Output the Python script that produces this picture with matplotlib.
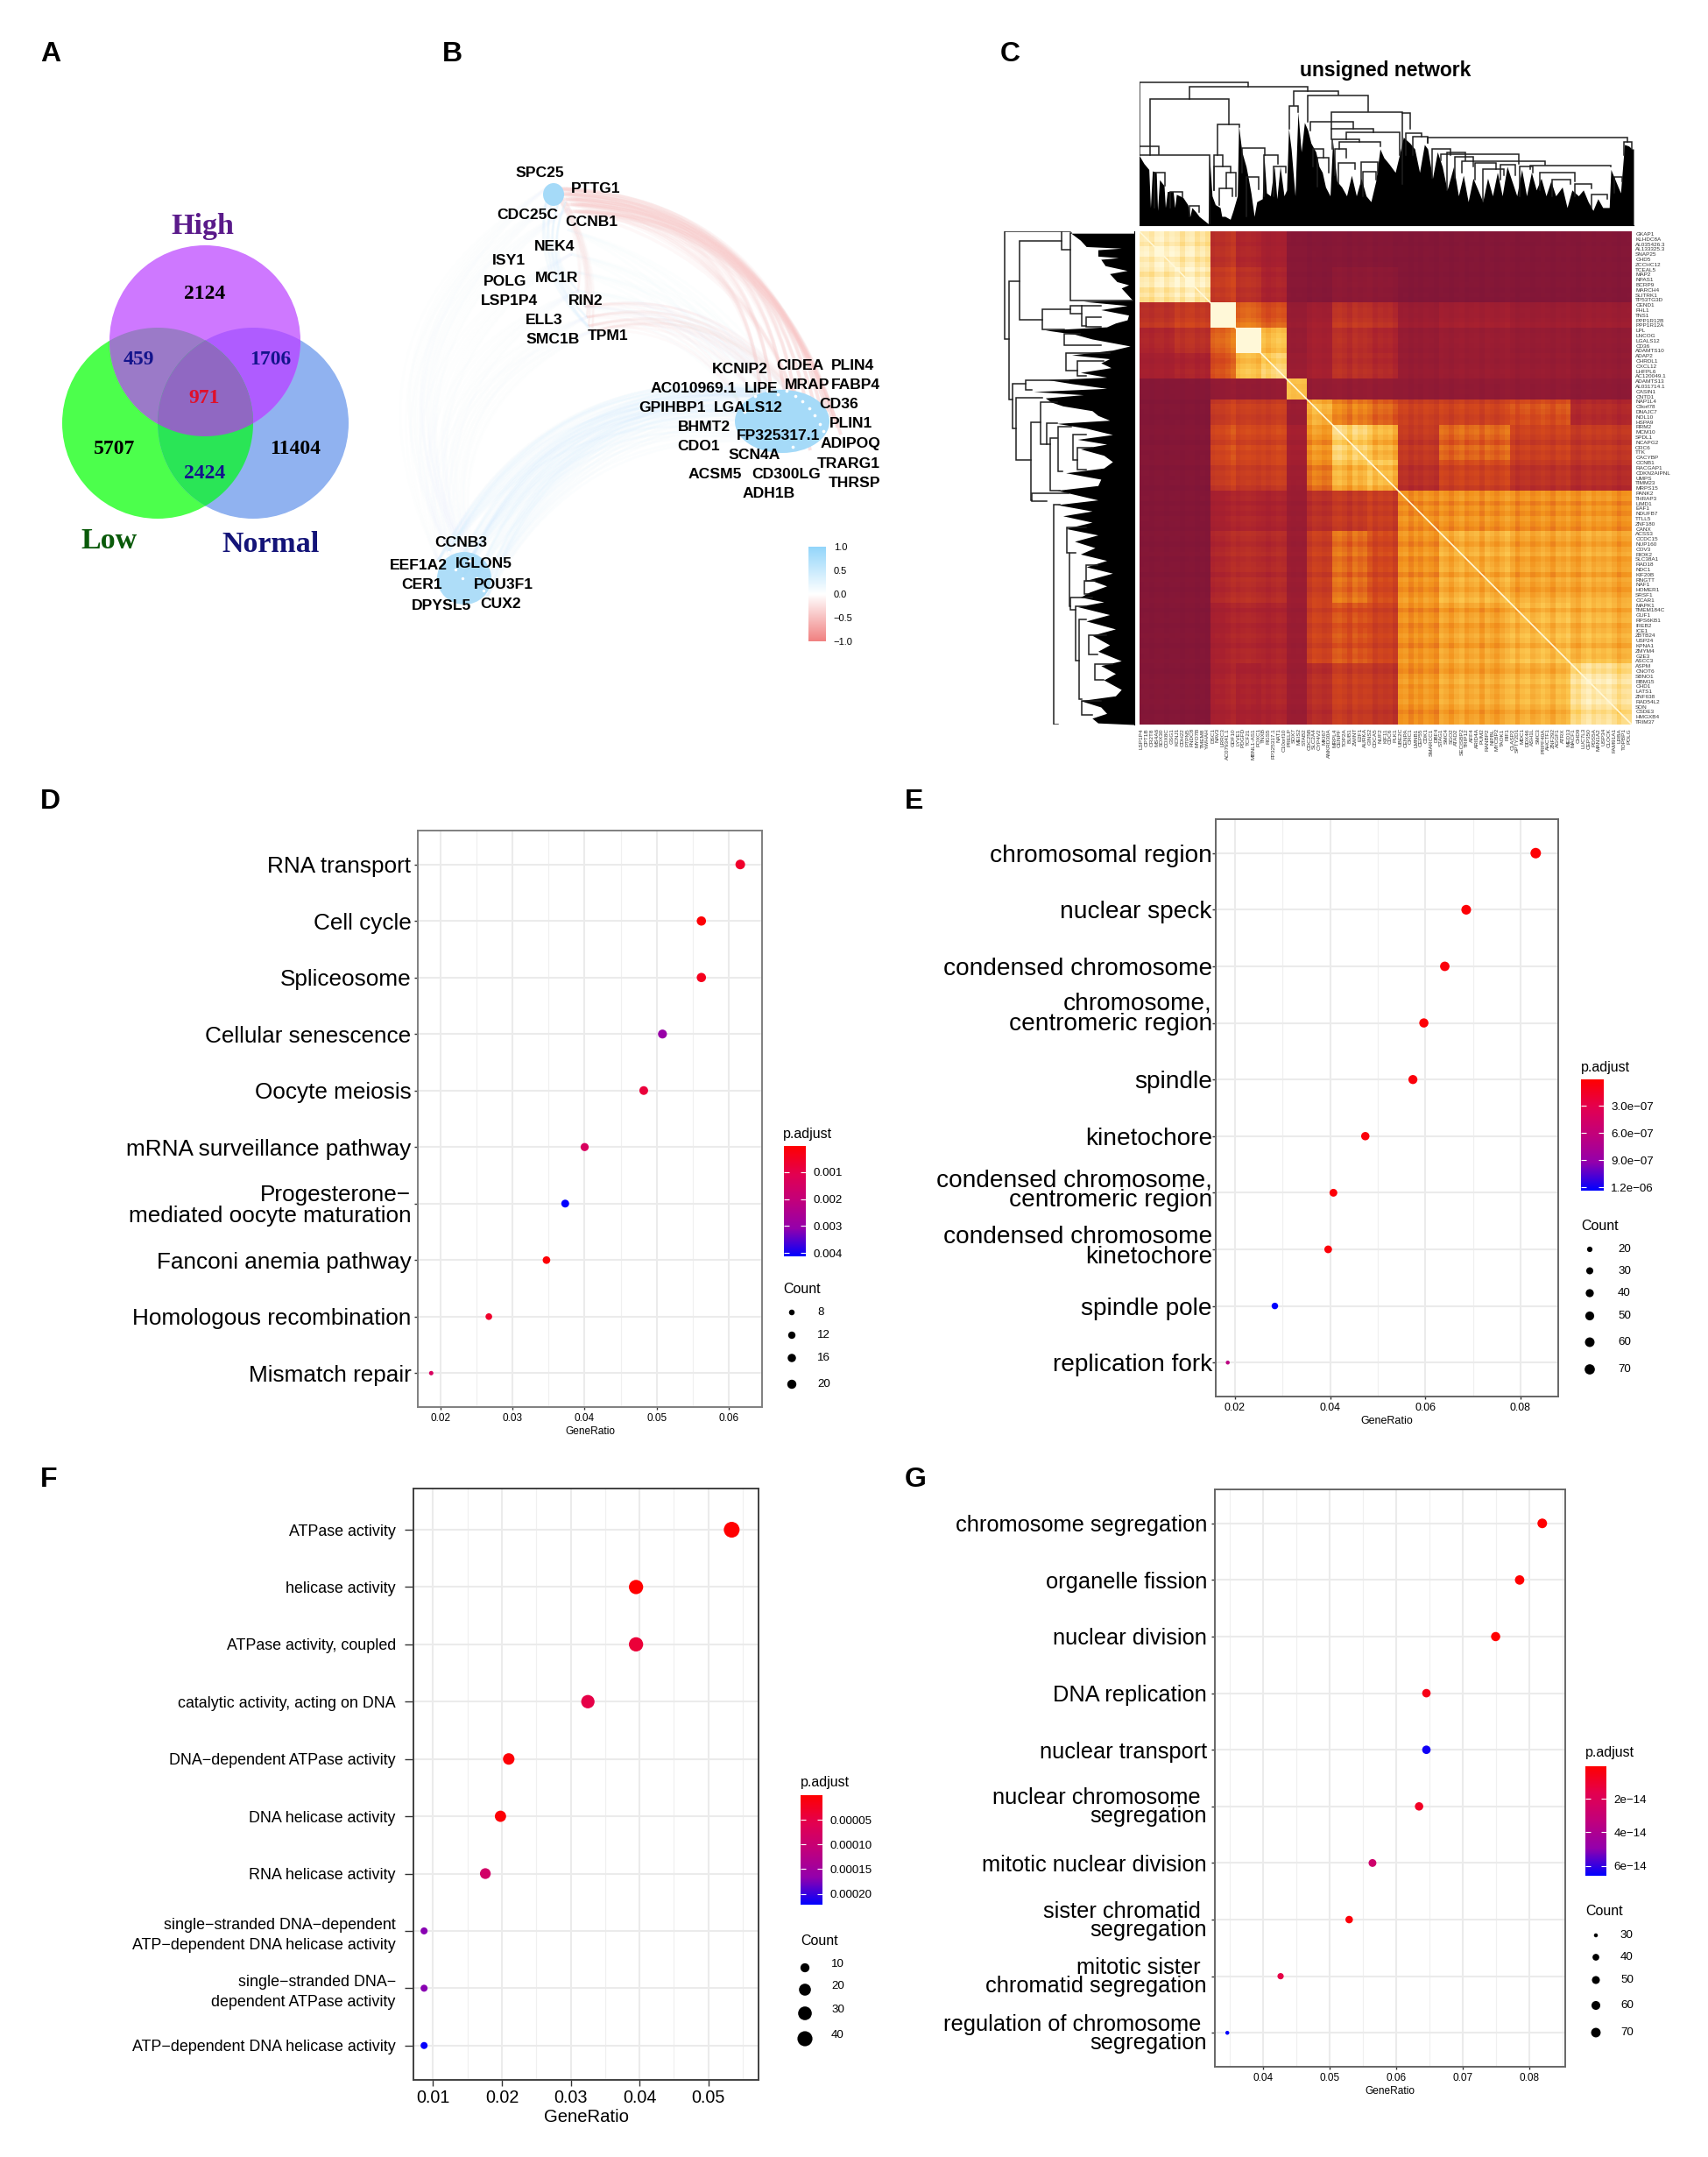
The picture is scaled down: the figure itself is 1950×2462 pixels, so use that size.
import numpy as np
import matplotlib
matplotlib.use("Agg")
import matplotlib.pyplot as plt
from matplotlib.colors import LinearSegmentedColormap, Normalize
from matplotlib.cm import ScalarMappable
from matplotlib.patches import Circle, Polygon, PathPatch, Ellipse
from matplotlib.path import Path
from matplotlib.transforms import ScaledTranslation

plt.rcParams['font.family'] = ['Liberation Sans', 'DejaVu Sans']

W, H = 1950, 2462
RB = LinearSegmentedColormap.from_list('rb', ['#FF0000', '#E3004F', '#C1007C', '#9300AC', '#0000FF'])
TOM = LinearSegmentedColormap.from_list('tom', [(0, '#7E1538'), (.25, '#A8202F'), (.45, '#D4481C'),
                                               (.62, '#F2921C'), (.78, '#FCC850'), (1, '#FFF8D8')])
NET = LinearSegmentedColormap.from_list('net', ['#F08080', '#FFFFFF', '#92D5FA'])

# ---- Panel A: Venn
venn_sets = ['High', 'Low', 'Normal']
venn_counts = ['2124', '459', '1706', '971', '5707', '11404', '2424']

# ---- Panel B: network
net_genes = ['SPC25', 'PTTG1', 'CDC25C', 'CCNB1', 'NEK4', 'ISY1', 'POLG', 'MC1R', 'LSP1P4', 'RIN2', 'ELL3', 'SMC1B',
             'TPM1', 'KCNIP2', 'CIDEA', 'PLIN4', 'AC010969.1', 'LIPE', 'MRAP', 'FABP4', 'GPIHBP1', 'LGALS12', 'CD36',
             'BHMT2', 'PLIN1', 'FP325317.1', 'CDO1', 'ADIPOQ', 'SCN4A', 'TRARG1', 'ACSM5', 'CD300LG', 'THRSP', 'ADH1B',
             'CCNB3', 'EEF1A2', 'IGLON5', 'CER1', 'POU3F1', 'DPYSL5', 'CUX2']
net_label_x = [616, 680, 602, 675, 633, 581, 577, 636, 581, 669, 621, 631, 694, 845, 913, 974, 792, 869, 922, 977, 767,
               854, 958, 804, 972, 889, 798, 971, 861, 969, 816, 898, 975, 878, 526, 478, 552, 482, 575, 504, 572]
net_label_y = [198, 215, 246, 254, 281, 298, 321, 317, 344, 344, 366, 388, 383, 422, 417, 418, 444, 444, 440, 440, 466,
               466, 462, 487, 484, 498, 509, 506, 520, 529, 542, 542, 552, 564, 619, 646, 644, 668, 667, 691, 690]
# node layout (figure pixels) of the three gene groups
top_node_x = [628, 634, 640, 646, 650, 648, 652, 655, 660, 668, 670, 672, 676]
top_node_y = [212, 218, 224, 230, 238, 262, 290, 310, 332, 350, 362, 372, 378]
right_node_x = [850, 862, 876, 888, 898, 908, 916, 924, 930, 936, 940, 905]
right_node_y = [470, 452, 446, 450, 446, 452, 458, 466, 474, 484, 492, 510]
low_node_x = [500, 512, 520, 528, 536, 544, 552, 556]
low_node_y = [640, 630, 650, 660, 640, 660, 674, 682]

# ---- Panel C: topological overlap block matrix
tom_edges = [0, .072, .143, .200, .246, .301, .339, .390, .462, .530, .607, .751, .877, 1]
tom_values = [
    [.93, .90, .30, .25, .22, .05, .04, .04, .04, .03, .03, .03, .03],
    [.90, .93, .35, .30, .25, .05, .04, .08, .08, .03, .03, .03, .03],
    [.30, .35, .97, .45, .42, .12, .18, .30, .28, .15, .18, .15, .15],
    [.25, .30, .45, .94, .68, .12, .20, .28, .25, .12, .14, .12, .10],
    [.22, .25, .42, .68, .78, .15, .22, .30, .28, .14, .15, .14, .12],
    [.04, .04, .10, .10, .12, .70, .12, .12, .12, .10, .10, .10, .08],
    [.03, .03, .35, .36, .38, .15, .70, .55, .50, .40, .40, .45, .28],
    [.03, .03, .38, .38, .40, .20, .60, .76, .68, .35, .48, .38, .34],
    [.03, .03, .35, .35, .38, .18, .55, .68, .72, .32, .40, .33, .30],
    [.03, .03, .22, .25, .25, .15, .32, .35, .38, .60, .60, .60, .60],
    [.03, .03, .25, .28, .28, .15, .38, .50, .42, .60, .66, .64, .64],
    [.03, .03, .22, .25, .25, .15, .40, .44, .40, .60, .64, .70, .68],
    [.03, .03, .22, .22, .25, .15, .30, .36, .34, .60, .64, .68, .84]]
tom_gene_bands = [0, .01, -.02, .03, .04, -.01, .02, .03, -.02, .03, .04, -.02, .01, -.03,
                  .02, .05, .04, .08, .14,
                  .03, .06, .08, .06, .03, .02, -.02, .02, .05, .03,
                  .04, .02, .03,
                  .02, -.03, .04, .02, -.02,
                  0, .05, .07, .03, -.03, .06, .01, .04, .07, -.02, .03,
                  0, .02, -.05,
                  .01, .03, -.04, .02, -.02, .04, .01, -.03, .05, .02, -.03, .03, .06, -.01, .02, .04, -.03, .05, .02,
                  -.02, .03, .07, .03, -.04, .02, .04, -.02, .01, .05, .02, -.03, .04, .02, .06, .01, -.02, .04, .07, .02,
                  .05, .03, .06, .02, -.03, .01, .02]
tom_row_genes = ['GKAP1', 'KLHDC8A', 'AL035426.3', 'AL133325.3', 'SNAP25', 'CHD5', 'ZCCHC12', 'TCEAL5', 'MAP2', 'NPAS1',
                 'BCRP9', 'MARCH4', 'SLITRK1', 'TP53TG3D', 'CEND1', 'FHL1', 'TNS1', 'PPP1R12B', 'PPP1R12A', 'LPL', 'LNCOG',
                 'LGALS12', 'CD36', 'ADAMTS10', 'ADAP2', 'CHRDL1', 'CXCL12', 'LHFPL6', 'AC120049.1', 'ADAMTS13',
                 'AL031714.1', 'CASIN1', 'CNTD1', 'NAP1L4', 'C9orf78', 'DNAJC7', 'NOL10', 'HSPA9', 'RRM2', 'MCM10', 'SPDL1',
                 'NCAPG2', 'ORC6', 'TTK', 'CACYBP', 'CCNB1', 'RACGAP1', 'CDKN2AIPNL', 'UMPS', 'TIMM23', 'MRPS15', 'PANK2',
                 'THRAP3', 'LIMD1', 'EAF1', 'NDUFB7', 'TTLL5', 'ZNF180', 'CANX', 'ACSS3', 'CCDC15', 'NUP160', 'COV3',
                 'RIOK2', 'SLC38A1', 'RAD18', 'NDC1', 'KIF20B', 'RNGTT', 'NAF1', 'HOMER1', 'SRSF1', 'CCAR1', 'MAPK1',
                 'TMEM184C', 'GUF1', 'RPS6KB1', 'IREB2', 'ICE1', 'ZBTB24', 'USP24', 'KPNA1', 'ZMYM4', 'G2E3', 'ASCC3',
                 'ASPM', 'CNOT6', 'SBNO1', 'RBM15', 'CHD1', 'LATS1', 'ZNF638', 'RAD54L2', 'SON', 'CSDE3', 'HMGXB4', 'TRIM37']
tom_col_genes = ['LSP1P4', 'CPT1B', 'OR2T8', 'MS4A6', 'SOX30', 'COX8C', 'GSG1', 'KCNJ1', 'CDH22', 'PTPN5', 'FNDC8', 'MYO7B',
                 'TMEM8', 'YWHAH', 'DSC1', 'NAV3', 'LRRC3', 'AC079341.1', 'GDF10', 'LYVE1', 'PDGFD', 'TCF21', 'MBNL1-AS1',
                 'FOXC1', 'TNXB', 'RGS5', 'FP325317.1', 'NAT1', 'C10orf10', 'PRELP', 'SOX7', 'MEIS2', 'STAB2', 'CDC25B',
                 'SLC2A4', 'CYP4V2', 'MKI67', 'ANKRD30A', 'MRPL4', 'CENPF', 'TOP2A', 'BUB1', 'ZWINT', 'E2F1', 'AURKA',
                 'GINS2', 'CDCA5', 'NUF2', 'KIF11', 'CDC6', 'PLK1', 'UBE2C', 'CENPA', 'ORC1', 'LMNB1', 'CEP55', 'CDK1',
                 'SMARCC1', 'DBF4', 'STAG1', 'SMC4', 'SGO2', 'ATAD2', 'SECISBP2', 'TRIP12', 'AFF4', 'ARID4A', 'PUM2',
                 'RANBP2', 'NIPBL', 'MYCBP2', 'TAOK1', 'RIF1', 'CLASP2', 'SPTY2D1', 'MDC1', 'DDX46', 'ASH1L', 'SMC3',
                 'PRPF40A', 'AHCTF1', 'ZNF292', 'AGGF1', 'ATRX', 'MED13', 'MACF1', 'CHD9', 'LUC7L3', 'CEP350', 'PDS5A',
                 'MAN1A2', 'USP34', 'CLOCK', 'FAM91A1', 'LRBA', 'TOPBP1', 'POLG']
top_dendro_x = [15, 30, 45, 50, 56, 68, 72, 78, 92, 96, 102, 120, 125, 130, 150, 165, 172, 178, 190, 200, 228, 232, 240, 250,
                265, 270, 280, 296, 305, 318, 322, 332, 345, 352, 360, 370, 378, 395, 400, 408, 420, 432, 440, 450, 462, 470,
                476, 484, 496, 505, 515, 525, 535, 545, 560, 570, 580, 590, 604, 612, 625, 640, 655, 670, 685, 700, 715, 730,
                745, 758, 770, 785, 805, 818, 830, 850, 865, 880, 895, 905, 920, 935, 950, 965, 985, 1000, 1015, 1030, 1045,
                1060, 1075, 1090, 1105, 1120, 1135, 1150, 1165, 1180, 1195, 1210, 1225, 1240, 1255, 1270, 1285, 1300, 1320,
                1335, 1350, 1370, 1385, 1400, 1415, 1430, 1445, 1465, 1470, 1485, 1500, 1512, 1525, 1535, 1540]
top_dendro_y = [262, 290, 310, 440, 315, 320, 450, 345, 365, 440, 385, 385, 440, 395, 405, 430, 470, 440, 455, 470, 495, 265,
                400, 430, 440, 470, 470, 480, 450, 400, 160, 250, 300, 340, 390, 470, 420, 410, 260, 390, 400, 300, 410, 300,
                400, 380, 170, 240, 400, 115, 250, 150, 175, 220, 250, 300, 320, 370, 400, 215, 350, 370, 400, 330, 400, 340,
                400, 420, 350, 240, 270, 290, 320, 260, 200, 220, 240, 320, 225, 240, 340, 250, 300, 380, 300, 400, 330, 420,
                340, 380, 420, 340, 400, 320, 400, 300, 350, 400, 310, 400, 320, 380, 340, 400, 350, 400, 370, 440, 380, 400,
                380, 420, 450, 410, 440, 440, 310, 350, 390, 225, 230, 240, 240]
top_links = [(17, 352, 12, 230, 28), (170, 535, 27, 70, 42), (48, 292, 70, 262, 155), (17, 77, 230, 262, 258),
             (17, 232, 260, 262, 495), (258, 325, 155, 260, 165), (492, 630, 43, 92, 55), (478, 505, 93, 170, 115),
             (535, 722, 58, 147, 113), (608, 828, 115, 170, 118), (542, 675, 148, 178, 170), (608, 738, 170, 208, 183),
             (655, 818, 183, 208, 260), (612, 695, 208, 240, 215), (632, 758, 215, 240, 232), (828, 850, 118, 360, 170),
             (838, 885, 185, 260, 197), (858, 905, 197, 260, 218), (905, 1522, 202, 218, 215), (945, 1185, 258, 280, 290),
             (1010, 1268, 283, 320, 295), (1222, 1470, 297, 310, 300), (245, 272, 260, 380, 300), (245, 298, 300, 380, 320),
             (283, 313, 320, 376, 400), (262, 302, 376, 430, 400), (332, 402, 238, 320, 262), (400, 443, 262, 400, 290),
             (430, 468, 300, 400, 320), (618, 655, 240, 330, 270), (630, 680, 288, 360, 310), (700, 752, 285, 360, 320),
             (705, 745, 318, 400, 345), (990, 1045, 268, 340, 300), (1050, 1115, 288, 345, 310), (1130, 1175, 295, 345, 330),
             (1510, 1535, 215, 260, 240), (1250, 1360, 320, 380, 350), (1360, 1410, 360, 400, 375), (1410, 1460, 395, 440, 410),
             (920, 975, 240, 340, 260), (965, 1020, 252, 380, 280), (1075, 1140, 310, 420, 330), (1190, 1230, 300, 400, 320),
             (1290, 1345, 345, 400, 360), (1480, 1505, 335, 390, 350), (550, 585, 240, 300, 270), (565, 600, 270, 370, 320),
             (345, 385, 335, 470, 378), (62, 95, 320, 440, 365), (110, 150, 385, 440, 405), (170, 200, 435, 470, 455)]
left_dendro_y = [18, 40, 60, 65, 70, 90, 95, 100, 120, 135, 145, 170, 180, 190, 228, 232, 245, 258, 275, 290, 300, 312, 322, 335,
                 350, 372, 385, 400, 412, 425, 440, 455, 470, 478, 490, 505, 515, 525, 535, 548, 560, 575, 590, 605, 615, 630,
                 650, 665, 680, 695, 715, 735, 755, 770, 790, 810, 825, 840, 855, 870, 890, 905, 925, 945, 965, 985, 1005, 1025,
                 1045, 1065, 1085, 1105, 1125, 1145, 1160, 1175, 1190, 1215, 1235, 1260, 1280, 1310, 1330, 1360, 1375, 1400,
                 1420, 1450, 1470, 1485, 1505, 1525, 1540, 1555, 1560]
left_dendro_x = [248, 280, 300, 420, 340, 340, 410, 350, 365, 440, 380, 405, 445, 420, 458, 290, 440, 350, 445, 440, 400, 370,
                 160, 260, 320, 450, 390, 250, 380, 350, 385, 280, 370, 170, 250, 370, 120, 290, 160, 180, 220, 320, 340, 380,
                 200, 300, 390, 270, 370, 280, 360, 390, 360, 230, 350, 340, 200, 270, 340, 200, 320, 220, 320, 230, 340, 260,
                 330, 280, 370, 300, 390, 310, 370, 310, 280, 360, 270, 380, 300, 400, 320, 380, 340, 420, 350, 400, 360, 420,
                 400, 280, 350, 370, 320, 340, 463]
left_links = [(20, 12, 350, 215, 35), (35, 168, 540, 72, 48), (72, 42, 290, 215, 150), (215, 12, 70, 245, 245),
              (245, 18, 228, 250, 458), (150, 258, 320, 245, 225), (245, 245, 270, 285, 285), (285, 245, 310, 350, 300),
              (300, 282, 312, 350, 350), (48, 490, 630, 93, 60), (93, 480, 510, 240, 115), (60, 535, 730, 150, 112),
              (112, 612, 855, 145, 115), (145, 548, 680, 200, 165), (165, 615, 680, 200, 178), (178, 660, 825, 200, 210),
              (205, 625, 765, 250, 220), (255, 650, 730, 300, 270), (270, 690, 760, 320, 300), (115, 835, 858, 240, 165),
              (190, 870, 1560, 210, 205), (225, 335, 370, 280, 350), (230, 395, 450, 380, 270), (270, 420, 465, 360, 300),
              (235, 940, 1020, 300, 240), (242, 1020, 1190, 265, 245), (245, 1160, 1200, 320, 265),
              (265, 1190, 1360, 300, 275), (275, 1230, 1480, 300, 285), (285, 1485, 1530, 350, 320), (205, 1565, 1585, 300, 300),
              (300, 1060, 1110, 340, 320), (295, 1110, 1150, 330, 310), (310, 1280, 1340, 370, 340), (330, 1370, 1420, 390, 360)]

# ---- Panels D-G: enrichment dot plots
d_terms = ['RNA transport', 'Cell cycle', 'Spliceosome', 'Cellular senescence', 'Oocyte meiosis',
           'mRNA surveillance pathway', 'Progesterone\u2212\nmediated oocyte maturation', 'Fanconi anemia pathway',
           'Homologous recombination', 'Mismatch repair']
d_ratio = [.0616, .0562, .0562, .0508, .0482, .0400, .0373, .0347, .0267, .0187]
d_count = [23, 21, 21, 19, 18, 15, 14, 13, 10, 7]
d_padj = [.0006, .0001, .0004, .0030, .0008, .0014, .0041, .0001, .0006, .0014]
d_xticks = [.02, .03, .04, .05, .06]
d_cbar_ticks = [.001, .002, .003, .004]
d_cbar_labels = ['0.001', '0.002', '0.003', '0.004']
d_legend_counts = [8, 12, 16, 20]

e_terms = ['chromosomal region', 'nuclear speck', 'condensed chromosome', 'chromosome,\ncentromeric region', 'spindle',
           'kinetochore', 'condensed chromosome,\ncentromeric region', 'condensed chromosome\nkinetochore', 'spindle pole',
           'replication fork']
e_ratio = [.0832, .0686, .0641, .0597, .0574, .0474, .0407, .0396, .0284, .0185]
e_count = [75, 62, 58, 54, 52, 43, 37, 36, 26, 17]
e_padj = [2e-8, 3e-8, 5e-8, 3e-8, 5e-8, 5e-8, 3e-8, 4e-8, 1.23e-6, 6.5e-7]
e_xticks = [.02, .04, .06, .08]
e_cbar_ticks = [3e-7, 6e-7, 9e-7, 1.2e-6]
e_cbar_labels = ['3.0e\u221207', '6.0e\u221207', '9.0e\u221207', '1.2e\u221206']
e_legend_counts = [20, 30, 40, 50, 60, 70]

f_terms = ['ATPase activity', 'helicase activity', 'ATPase activity, coupled', 'catalytic activity, acting on DNA',
           'DNA\u2212dependent ATPase activity', 'DNA helicase activity', 'RNA helicase activity',
           'single\u2212stranded DNA\u2212dependent\nATP\u2212dependent DNA helicase activity',
           'single\u2212stranded DNA\u2212\ndependent ATPase activity', 'ATP\u2212dependent DNA helicase activity']
f_ratio = [.0534, .0395, .0395, .0325, .0210, .0198, .0176, .0087, .0087, .0087]
f_count = [46, 34, 34, 28, 18, 17, 15, 8, 8, 8]
f_padj = [1e-6, 1e-6, 4e-5, 5e-5, 5e-6, 5e-6, 8.5e-5, .00017, .00017, .00022]
f_xticks = [.01, .02, .03, .04, .05]
f_cbar_ticks = [.00005, .0001, .00015, .0002]
f_cbar_labels = ['0.00005', '0.00010', '0.00015', '0.00020']
f_legend_counts = [10, 20, 30, 40]

g_terms = ['chromosome segregation', 'organelle fission', 'nuclear division', 'DNA replication', 'nuclear transport',
           'nuclear chromosome \nsegregation', 'mitotic nuclear division', 'sister chromatid \nsegregation',
           'mitotic sister \nchromatid segregation', 'regulation of chromosome \nsegregation']
g_ratio = [.0819, .0785, .0749, .0645, .0645, .0634, .0564, .0529, .0426, .0346]
g_count = [71, 68, 65, 56, 56, 55, 49, 46, 37, 30]
g_padj = [5e-16, 5e-16, 5e-16, 5e-15, 6.4e-14, 8e-15, 2.7e-14, 2e-15, 1.5e-14, 6.6e-14]
g_xticks = [.04, .05, .06, .07, .08]
g_cbar_ticks = [2e-14, 4e-14, 6e-14]
g_cbar_labels = ['2e\u221214', '4e\u221214', '6e\u221214']
g_legend_counts = [30, 40, 50, 60, 70]

fig = plt.figure(figsize=(W / 100, H / 100), dpi=100, facecolor='white')


def px_axes(l, t, r, b, **kw):
    return fig.add_axes([l / W, 1 - b / H, (r - l) / W, (b - t) / H], **kw)


ov = px_axes(0, 0, W, H, zorder=5)
ov.set_xlim(0, W)
ov.set_ylim(H, 0)
ov.axis('off')
ov.patch.set_alpha(0)

for letter, lx, ly in [('A', 58, 62), ('B', 516, 62), ('C', 1153, 62), ('D', 57, 915), ('E', 1044, 915),
                       ('F', 56, 1689), ('G', 1045, 1689)]:
    ov.text(lx, ly, letter, fontsize=23, fontweight='bold', ha='center', va='center')

# ---------------------------------------------------------------- A
centers = {'High': (234, 389), 'Low': (180, 483), 'Normal': (289, 483)}
R = 109


def lens(names, color):
    pts = []
    for n in names:
        t = np.linspace(0, 2 * np.pi, 720, endpoint=False)
        c = centers[n]
        p = np.c_[c[0] + R * np.cos(t), c[1] + R * np.sin(t)]
        for m in names:
            if m != n:
                p = p[np.hypot(p[:, 0] - centers[m][0], p[:, 1] - centers[m][1]) <= R]
        pts.append(p)
    pts = np.vstack(pts)
    mid = pts.mean(0)
    pts = pts[np.argsort(np.arctan2(pts[:, 1] - mid[1], pts[:, 0] - mid[0]))]
    ov.add_patch(Polygon(pts, closed=True, fc=color, ec='none'))


for n, col in [('Low', '#4CFF4C'), ('Normal', '#90B2F0'), ('High', '#CE78FF')]:
    ov.add_patch(Circle(centers[n], R, fc=col, ec='none'))
lens(['High', 'Low'], '#9B7AC8')
lens(['High', 'Normal'], '#AF5CFF')
lens(['Low', 'Normal'], '#2AE556')
lens(['High', 'Low', 'Normal'], '#9068C2')
serif = dict(family='Liberation Serif', fontweight='bold', ha='center', va='center')
for name, x, y, col in zip(venn_sets, [231, 124, 309], [259, 618, 621], ['#5A1A8A', '#0A5A0A', '#141478']):
    ov.text(x, y, name, fontsize=24.5, color=col, **serif)
for txt, x, y, col in zip(venn_counts, [234, 158.5, 309, 233, 131, 337, 234], [335.5, 410, 410, 454, 513, 513, 541],
                          ['k', '#14148C', '#14148C', '#E0102A', 'k', 'k', '#14148C']):
    ov.text(x, y, txt, fontsize=17, color=col, **serif)


# ---------------------------------------------------------------- B
def arc(p, q, rad, corr, lw=1.6, alpha=.16):
    mx, my = (p[0] + q[0]) / 2, (p[1] + q[1]) / 2
    dx, dy = q[0] - p[0], q[1] - p[1]
    ctrl = (mx + rad * dy, my - rad * dx)
    ov.add_patch(PathPatch(Path([p, ctrl, q], [Path.MOVETO, Path.CURVE3, Path.CURVE3]), fc='none',
                           ec=NET((corr + 1) / 2), lw=lw, alpha=alpha))


top_nodes = list(zip(top_node_x, top_node_y))
right_nodes = list(zip(right_node_x, right_node_y))
low_nodes = list(zip(low_node_x, low_node_y))
for i, p in enumerate(top_nodes[:5]):
    for j, q in enumerate(right_nodes):
        arc((p[0] + 6 * j % 20, p[1] + 3), (q[0] + 20, q[1] + 4), .44 - .012 * j, -.45, lw=2.6, alpha=.11)
for p in top_nodes[9:]:
    for q in right_nodes[:7]:
        arc(p, q, .32, -.45, lw=2, alpha=.08)
for p in top_nodes[5:10]:
    for q in right_nodes[:5]:
        arc(p, q, .2, .4, lw=2, alpha=.05)
for p in low_nodes:
    for q in right_nodes:
        arc(p, q, .36, .4, lw=2, alpha=.07)
for p in top_nodes[::2]:
    for q in low_nodes:
        arc(p, q, -.45, .3, lw=2, alpha=.035)
for p in top_nodes[:4]:
    for q in top_nodes[-5:]:
        arc(p, q, -.32, .4, lw=1.6, alpha=.1)
        arc(p, q, .18, -.4, lw=1.6, alpha=.07)
ov.add_patch(Ellipse((893, 481), 108, 72, fc='#A5DAF8', ec='none'))
ov.add_patch(Ellipse((530, 660), 62, 60, fc='#A5DAF8', ec='none', alpha=.9))
ov.add_patch(Ellipse((632, 222), 24, 26, fc='#A5DAF8', ec='none'))
ov.scatter(right_node_x, right_node_y, s=7, color='white', lw=0)
ov.scatter(low_node_x, low_node_y, s=6, color='white', lw=0)
for g, x, y in zip(net_genes, net_label_x, net_label_y):
    ov.text(x, y, g, fontsize=12.6, fontweight='bold', ha='center', va='center')
cax = px_axes(922.5, 624, 943.5, 732)
cb = fig.colorbar(ScalarMappable(Normalize(-1, 1), NET), cax=cax, ticks=[-1, -.5, 0, .5, 1])
cb.ax.set_yticklabels(['\u22121.0', '\u22120.5', '0.0', '0.5', '1.0'], fontsize=8)
cb.outline.set_visible(False)
cb.ax.tick_params(length=0, pad=6)

# ---------------------------------------------------------------- C
ov.text(1582, 81, 'unsigned network', fontsize=16.5, fontweight='bold', ha='center', va='center')
hm = px_axes(1300.5, 264, 1863, 827)
nr, nc = len(tom_row_genes), len(tom_col_genes)
blocks = np.array(tom_values)
band = np.array(tom_gene_bands)
pos = (np.arange(nr) + .5) / nr
idx = np.searchsorted(tom_edges, pos) - 1
tom_grid = blocks[np.ix_(idx, idx)]
tom_grid = tom_grid + np.add.outer(band, band) * (.2 + tom_grid) * 1.0
mesh_edges = np.linspace(0, 1, nr + 1)
hm.pcolormesh(mesh_edges, mesh_edges, tom_grid, cmap=TOM, vmin=0, vmax=1, rasterized=True)
hm.plot([0, 1], [0, 1], color='#FFF8D8', lw=1.2)
hm.set_xlim(0, 1)
hm.set_ylim(1, 0)
hm.set_yticks((np.arange(nr) + .5) / nr, tom_row_genes, fontsize=4.6, color='#333333')
hm.set_xticks((np.arange(nc) + .5) / nc, tom_col_genes, fontsize=4.6, color='#333333', rotation=90)
hm.yaxis.tick_right()
hm.tick_params(length=0, pad=3)
for s in hm.spines.values():
    s.set_visible(False)

td = px_axes(1300.5, 93, 1865, 257)
td.fill_between(top_dendro_x, top_dendro_y, 500, color='k', lw=0)
for x1, x2, yt, y1, y2 in top_links:
    td.plot([x1, x1, x2, x2], [y1, yt, yt, y2], color='#202020', lw=1.1, solid_joinstyle='miter')
td.set_xlim(15, 1540)
td.set_ylim(500, 10)
td.set_xticks([])
td.set_yticks([])
for k, s in td.spines.items():
    s.set_visible(k == 'bottom')

ld = px_axes(1145, 264, 1294.5, 827)
ld.fill_betweenx(left_dendro_y, left_dendro_x, 463, color='k', lw=0)
for xl, y1, y2, x1, x2 in left_links:
    ld.plot([x1, xl, xl, x2], [y1, y1, y2, y2], color='#202020', lw=1.1, solid_joinstyle='miter')
ld.set_xlim(15, 463)
ld.set_ylim(1560, 12)
ld.set_xticks([])
ld.set_yticks([])
for k, s in ld.spines.items():
    s.set_visible(k == 'right')


# ---------------------------------------------------------------- D-G
def dia_to_s(d):
    return (np.asarray(d, float) * 72 / 100) ** 2


def dotplot(box, xlim, terms, ratio, count, padj, xticks, cbox, cticks, clabels, vlim, legend_counts, legend_pos,
            size_range, count_range, ytfs, xfs, xlfs, linesp, pad, ticklen, border, shifts=None, ctfs=9.6, legend_dy=0,
            ylim=None):
    ax = px_axes(*box)
    n = len(terms)
    ypos = np.arange(1, n + 1)

    def dia(c):
        c = np.asarray(c, float)
        t = np.clip((c - count_range[0]) / (count_range[1] - count_range[0]), 0, 1)
        return size_range[0] + (size_range[1] - size_range[0]) * np.sqrt(t)

    ax.scatter(ratio, ypos, s=dia_to_s(dia(count)), c=padj, cmap=RB, vmin=vlim[0], vmax=vlim[1], lw=0, zorder=3)
    ax.set_xlim(*xlim)
    ax.set_ylim(*(ylim or (n + .6, .4)))
    ax.set_yticks(ypos, terms, fontsize=ytfs, linespacing=linesp, multialignment='right')
    ax.set_xticks(xticks, ['%.2f' % v for v in xticks], fontsize=xfs)
    step = xticks[1] - xticks[0]
    ax.set_xticks([v + step / 2 for v in [xticks[0] - step] + list(xticks) if xlim[0] < v + step / 2 < xlim[1]], minor=True)
    ax.grid(True, which='major', color='#EBEBEB', lw=1.5, zorder=0)
    ax.grid(True, which='minor', axis='x', color='#F0F0F0', lw=.9, zorder=0)
    ax.set_axisbelow(True)
    ax.tick_params(which='minor', length=0)
    ax.tick_params(axis='y', length=ticklen, pad=pad, color='#333333', width=1)
    ax.tick_params(axis='x', length=ticklen * .7, pad=3, color='#333333', width=1)
    ax.set_xlabel('GeneRatio', fontsize=xlfs, labelpad=2)
    for s in ax.spines.values():
        s.set_edgecolor(border)
        s.set_linewidth(1.4)
    if shifts:
        for lab, sh in zip(ax.get_yticklabels(), shifts):
            if sh:
                lab.set_transform(lab.get_transform() + ScaledTranslation(0, -sh / 100, fig.dpi_scale_trans))
    # colour bar
    cax = px_axes(*cbox)
    cb = fig.colorbar(ScalarMappable(Normalize(*vlim), RB), cax=cax, ticks=cticks)
    cb.ax.invert_yaxis()
    cb.ax.set_yticklabels(clabels, fontsize=ctfs)
    cb.outline.set_visible(False)
    cb.ax.tick_params(right=True, left=True, direction='in', length=4, color='white', width=.8, pad=6)
    # size legend
    tx, ty_p, ty_c, dot_x, lab_x, ys = legend_pos
    ov.text(tx, ty_p, 'p.adjust', fontsize=11.5, ha='left', va='center')
    ov.text(tx, ty_c, 'Count', fontsize=11.5, ha='left', va='center')
    ov.scatter([dot_x] * len(ys), ys, s=dia_to_s(dia(legend_counts)), color='k', lw=0)
    for c, y in zip(legend_counts, ys):
        ov.text(lab_x, y - legend_dy, str(c), fontsize=ctfs, ha='left', va='center')
    return ax


dotplot((477, 948, 870, 1606), (.01684, .06462), d_terms, d_ratio, d_count, d_padj, d_xticks,
        (895, 1308, 920, 1434), d_cbar_ticks, d_cbar_labels, (.00003, .00413), d_legend_counts,
        (894, 1294, 1472, 904, 933, [1498, 1524, 1550, 1580]), (5, 11), (7, 23),
        18.8, 8.5, 8.6, 1.0, 2.5, 3, '#7F7F7F')
dotplot((1388, 935, 1779, 1594), (.01598, .08793), e_terms, e_ratio, e_count, e_padj, e_xticks,
        (1805, 1232, 1831, 1358.5), e_cbar_ticks, e_cbar_labels, (5e-9, 1.23e-6), e_legend_counts,
        (1805, 1218, 1399, 1815, 1847, [1426, 1450.5, 1476, 1502, 1532, 1563]), (4.5, 12), (17, 75),
        20.2, 8.9, 9, .85, 0, 3, '#666666', shifts=[0, 0, 0, -12, 0, 0, -4, -4, 0, 0])
dotplot((472, 1699, 866, 2374), (.00715, .0573), f_terms, f_ratio, f_count, f_padj, f_xticks,
        (914, 2049, 939, 2174), f_cbar_ticks, f_cbar_labels, (1e-7, .000222), f_legend_counts,
        (914, 2034, 2215, 919, 949, [2246, 2271, 2298, 2327]), (8, 18), (8, 46),
        12.9, 14.2, 14.6, 1.45, 7.5, 7, '#404040', legend_dy=4, ylim=(10.6, .281))
dotplot((1387, 1700, 1787, 2359), (.03273, .08535), g_terms, g_ratio, g_count, g_padj, g_xticks,
        (1810, 2015.5, 1834, 2141), g_cbar_ticks, g_cbar_labels, (1.4e-16, 6.6e-14), g_legend_counts,
        (1810, 2001, 2182, 1822, 1850, [2209, 2234, 2260, 2289, 2320]), (4.5, 11), (30, 71),
        18.3, 8.5, 8.6, .85, 3.5, 3, '#666666')

fig.savefig('out.png', dpi=100)
